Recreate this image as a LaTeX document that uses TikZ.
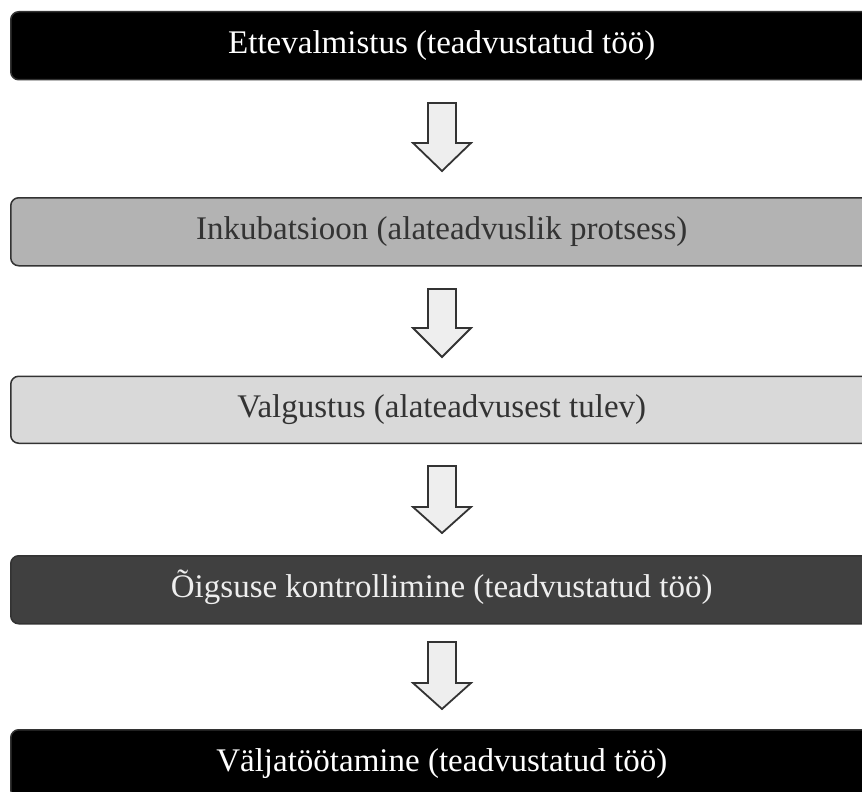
\documentclass[tikz,border=0pt]{standalone}
\usepackage{fontspec}
\setmainfont{Liberation Serif}
\definecolor{linec}{HTML}{333333}
\definecolor{arrowfill}{HTML}{EEEEEE}
\definecolor{fillA}{HTML}{000000}
\definecolor{fillB}{HTML}{B3B3B3}
\definecolor{fillC}{HTML}{D9D9D9}
\definecolor{fillD}{HTML}{404040}
\definecolor{darktext}{HTML}{333333}
\definecolor{lighttext}{HTML}{EEEEEE}
\begin{document}
\begin{tikzpicture}[x=1pt,y=-1pt,
  stage/.style={draw=linec, line width=1.5pt, rounded corners=8pt,
    minimum width=862pt, minimum height=68pt, text height=15pt, text depth=0pt,
    font=\fontsize{33}{38}\selectfont, inner sep=0pt, anchor=north west},
  blockarrow/.style={draw=linec, fill=arrowfill, line width=1.8pt, line join=miter}]
\useasboundingbox (0,0) rectangle (862,792);
\fill[white] (0,0) rectangle (862,792);
\begin{scope}
\clip (0,0) rectangle (862,792);
\node[stage, fill=fillA, text=white] (b1) at (10,11) {Ettevalmistus (teadvustatud töö)};
\node[stage, fill=fillB, text=darktext] (b2) at (10,197) {Inkubatsioon (alateadvuslik protsess)};
\node[stage, fill=fillC, text=darktext, minimum height=67pt] (b3) at (10,375.5) {Valgustus (alateadvusest tulev)};
\node[stage, fill=fillD, text=lighttext] (b4) at (10,555) {Õigsuse kontrollimine (teadvustatud töö)};
\node[stage, fill=fillA, text=white] (b5) at (10,729) {Väljatöötamine (teadvustatud töö)};
\end{scope}
\foreach \t/\h/\p in {103/143/171, 289/328/357, 466/507/533, 642/683/709}{
  \draw[blockarrow] (428,\t) -- (456,\t) -- (456,\h) -- (471,\h) -- (442,\p) -- (413,\h) -- (428,\h) -- cycle;
}
\end{tikzpicture}
\end{document}
